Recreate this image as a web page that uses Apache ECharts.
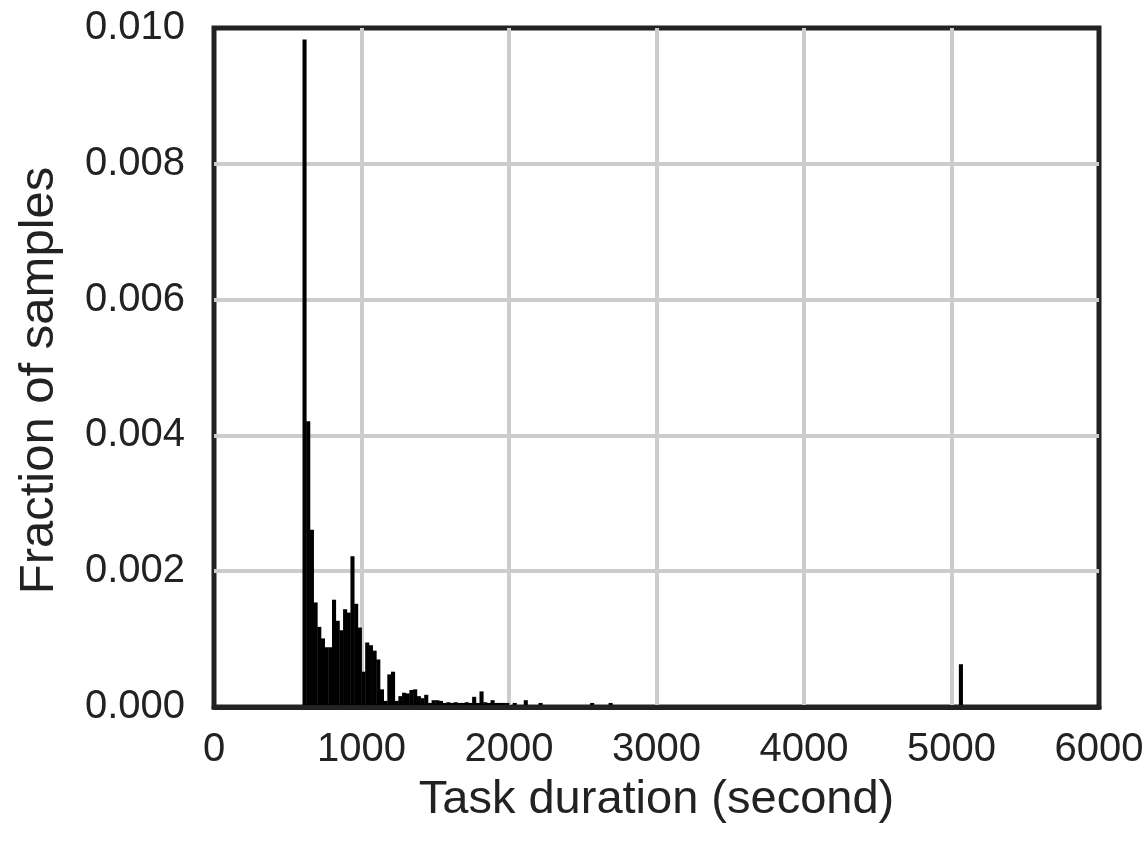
<!DOCTYPE html>
<html>
<head>
<meta charset="utf-8">
<title>Task duration histogram</title>
<script src="https://cdn.jsdelivr.net/npm/echarts@6/dist/echarts.min.js"></script>
<style>
  html, body { margin: 0; padding: 0; background: #fff; }
  #chart { width: 1148px; height: 841px; }
</style>
</head>
<body>
<div id="chart"></div>
<script>
// histogram bins: start (second), width, fraction per bin
var binStart = 600;
var binWidth = 25;
var fractions = [
  0.00983, 0.00421, 0.00261, 0.00154, 0.00118, 0.00101, 0.00088, 0.00088,
  0.00158, 0.00127, 0.00113, 0.00144, 0.00139, 0.00222, 0.00152, 0.00117,
  0.00052, 0.00095, 0.00091, 0.00083, 0.00070, 0.00026, 0.00009, 0.00048,
  0.00052, 0.00009, 0.00016, 0.00021, 0.00020, 0.00025, 0.00026, 0.00016,
  0.00013, 0.00018, 0.00006, 0.00010, 0.00010, 0.00009, 0.00006, 0.00007,
  0.00006, 0.00007, 0.00006, 0.00006, 0.00007, 0.00006, 0.00015, 0.00006,
  0.00023, 0.00007, 0.00006, 0.00010, 0.00006, 0.00006, 0.00006, 0.00006,
  0, 0.00006, 0, 0, 0.00010, 0, 0, 0,
  0.00006, 0, 0, 0, 0, 0, 0, 0,
  0, 0, 0, 0, 0, 0, 0.00006, 0,
  0, 0, 0, 0.00006
];
// the lone bin far out near 5000 s
var outlierStarts = [5050];
var outlierFractions = [0.00063];

var xTicks = { min: 0, max: 6000, interval: 1000 };
var yTicks = { min: 0, max: 0.01, interval: 0.002 };

var data = [];
for (var i = 0; i < fractions.length; i++) {
  if (fractions[i] > 0) data.push([binStart + i * binWidth, fractions[i]]);
}
for (var j = 0; j < outlierStarts.length; j++) {
  data.push([outlierStarts[j], outlierFractions[j]]);
}

var font = 'Liberation Sans, Arial, Helvetica, sans-serif';
var textColor = '#222';

var chart = echarts.init(document.getElementById('chart'));

// each bar goes from its bin start to start + width, value -> 0
function renderBar(params, api) {
  var x0 = api.value(0);
  var v = api.value(1);
  var top = api.coord([x0, v]);
  var bottom = api.coord([x0 + binWidth, 0]);
  return {
    type: 'rect',
    shape: {
      x: top[0],
      y: top[1],
      width: bottom[0] - top[0] + 0.4,
      height: bottom[1] - top[1]
    },
    style: { fill: '#000' }
  };
}

var option = {
  animation: false,
  backgroundColor: '#fff',
  grid: {
    left: 214,
    right: 49,
    top: 28,
    bottom: 134,
    show: true,
    borderColor: '#222',
    borderWidth: 5,
    backgroundColor: 'transparent'
  },
  xAxis: [{
    // bottom axis: labels + thick line drawn above the bars
    type: 'value',
    position: 'bottom',
    min: xTicks.min,
    max: xTicks.max,
    interval: xTicks.interval,
    z: 10,
    name: 'Task duration (second)',
    nameLocation: 'middle',
    nameGap: 70,
    nameTextStyle: { fontFamily: font, fontSize: 47, color: textColor },
    axisLine: { show: true, lineStyle: { color: '#222', width: 5 } },
    axisTick: { show: false },
    axisLabel: {
      fontFamily: font,
      fontSize: 40,
      color: textColor,
      margin: 23,
      formatter: function (v) { return String(v); }
    },
    splitLine: { show: false }
  }, {
    // vertical grid lines, behind the bars
    type: 'value',
    position: 'top',
    min: xTicks.min,
    max: xTicks.max,
    interval: xTicks.interval,
    axisLine: { show: false },
    axisTick: { show: false },
    axisLabel: { show: false },
    splitLine: {
      show: true,
      showMinLine: false,
      showMaxLine: false,
      lineStyle: { color: '#cccccc', width: 4 }
    }
  }],
  yAxis: {
    type: 'value',
    min: yTicks.min,
    max: yTicks.max,
    interval: yTicks.interval,
    name: 'Fraction of samples',
    nameLocation: 'middle',
    nameGap: 150,
    nameTextStyle: { fontFamily: font, fontSize: 49, color: textColor, padding: [0, 26, 0, 0] },
    axisLine: { show: false },
    axisTick: { show: false },
    axisLabel: {
      fontFamily: font,
      fontSize: 40,
      color: textColor,
      margin: 29,
      formatter: function (v) { return v.toFixed(3); }
    },
    splitLine: {
      show: true,
      showMinLine: false,
      showMaxLine: false,
      lineStyle: { color: '#cccccc', width: 4 }
    }
  },
  series: [{
    type: 'custom',
    name: 'Fraction of samples',
    xAxisIndex: 0,
    yAxisIndex: 0,
    renderItem: renderBar,
    encode: { x: 0, y: 1 },
    data: data
  }]
};

chart.setOption(option);
</script>
</body>
</html>
